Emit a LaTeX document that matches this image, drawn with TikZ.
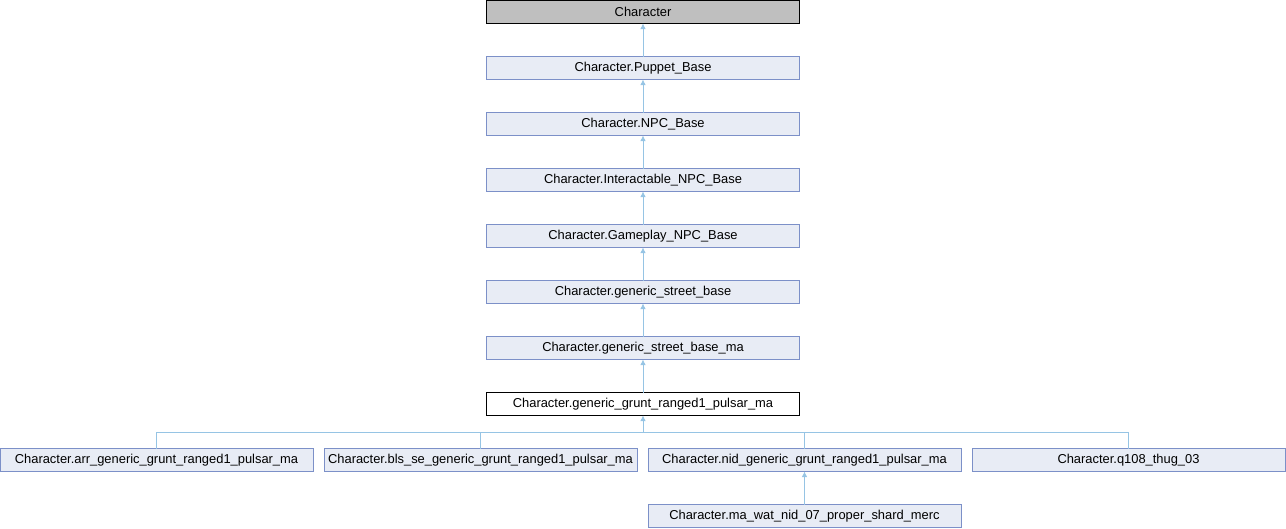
\documentclass[tikz,border=0pt]{standalone}
\usepackage{fontspec}
\setmainfont{Liberation Sans}
\usepackage{tikz}
\usetikzlibrary{arrows.meta}

\definecolor{boxfill}{RGB}{232,236,245}
\definecolor{boxline}{RGB}{124,144,200}
\definecolor{edgeline}{RGB}{150,196,228}
\definecolor{rootfill}{RGB}{191,191,191}

\tikzset{
  cls/.style={draw=boxline, fill=boxfill, line width=0.8pt,
    minimum width=313pt, minimum height=23pt, inner sep=0pt, outer sep=0pt,
    font=\fontsize{12.9}{15}\selectfont},
  root/.style={cls, draw=black, fill=rootfill},
  self/.style={cls, draw=black, fill=white},
  inh/.style={draw=edgeline, line width=0.8pt},
  >={Latex[length=5.5pt,width=5.5pt]}
}

\begin{document}
\begin{tikzpicture}[node distance=56pt]
    \useasboundingbox (0,0) rectangle (1286pt,-528pt);

    \node[root] at (643pt,-12pt) (C)   {Character};
    \node[cls, below of=C]       (pup) {Character.Puppet\_Base};
    \node[cls, below of=pup]     (npc) {Character.NPC\_Base};
    \node[cls, below of=npc]     (inter) {Character.Interactable\_NPC\_Base};
    \node[cls, below of=inter]   (game)  {Character.Gameplay\_NPC\_Base};
    \node[cls, below of=game]    (street) {Character.generic\_street\_base};
    \node[cls, below of=street]  (streetma) {Character.generic\_street\_base\_ma};
    \node[self, below of=streetma] (grunt) {Character.generic\_grunt\_ranged1\_pulsar\_ma};

    \node[cls, below of=grunt, xshift=-486.5pt] (arr) {Character.arr\_generic\_grunt\_ranged1\_pulsar\_ma};
    \node[cls, below of=grunt, xshift=-162.5pt] (bls) {Character.bls\_se\_generic\_grunt\_ranged1\_pulsar\_ma};
    \node[cls, below of=grunt, xshift=161.5pt]  (nid) {Character.nid\_generic\_grunt\_ranged1\_pulsar\_ma};
    \node[cls, below of=grunt, xshift=485.5pt]  (thug) {Character.q108\_thug\_03};
    \node[cls, below of=nid]     (merc) {Character.ma\_wat\_nid\_07\_proper\_shard\_merc};

    \draw[inh, <-] (C) to (pup);
    \draw[inh, <-] (pup) to (npc);
    \draw[inh, <-] (npc) to (inter);
    \draw[inh, <-] (inter) to (game);
    \draw[inh, <-] (game) to (street);
    \draw[inh, <-] (street) to (streetma);
    \draw[inh, <-] (streetma) to (grunt);

    \coordinate[below=17pt] (bus) at (grunt.south);
    \draw[inh, <-] (grunt) to (bus);
    \draw[inh] (bus) -| (arr.north);
    \draw[inh] (bus) -| (bls.north);
    \draw[inh] (bus) -| (nid.north);
    \draw[inh] (bus) -| (thug.north);
    \draw[inh, <-] (nid) to (merc);
\end{tikzpicture}
\end{document}
